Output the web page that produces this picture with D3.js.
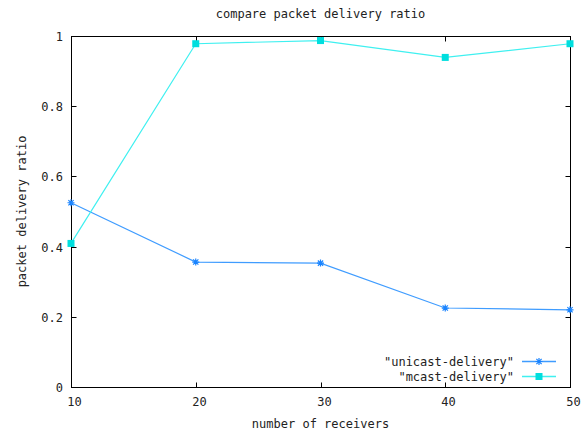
<!DOCTYPE html>
<html><head><meta charset="utf-8">
<script src="https://cdn.jsdelivr.net/npm/d3@7/dist/d3.min.js"></script>
<style>
body{margin:0;background:#fff;}
text{font-family:"DejaVu Sans Mono",monospace;font-size:12px;fill:#222;}
</style></head>
<body>
<svg id="c" width="587" height="432"></svg>
<script>
const receivers = [10, 20, 30, 40, 50];
const unicastDelivery = [0.525, 0.356, 0.353, 0.225, 0.220];
const mcastDelivery = [0.409, 0.978, 0.987, 0.939, 0.978];
const xTicks = [10, 20, 30, 40, 50];
const yTicks = [0, 0.2, 0.4, 0.6, 0.8, 1];
const seriesNames = ['"unicast-delivery"', '"mcast-delivery"'];

const svg = d3.select("#c");
const L = 71, R = 570, T = 36, B = 387;
const x = d3.scaleLinear().domain([10, 50]).range([L, R]);
const y = d3.scaleLinear().domain([0, 1]).range([B, T]);

const g = svg.append("g").attr("transform", "translate(0.5,0.5)");

// frame
g.append("rect").attr("x", L).attr("y", T).attr("width", R - L).attr("height", B - T)
  .attr("fill", "none").attr("stroke", "#000");

// ticks (inward, mirrored)
const tl = 5;
xTicks.forEach(v => {
  const px = Math.round(x(v));
  g.append("line").attr("x1", px).attr("x2", px).attr("y1", B).attr("y2", B - tl).attr("stroke", "#000");
  g.append("line").attr("x1", px).attr("x2", px).attr("y1", T).attr("y2", T + tl).attr("stroke", "#000");
  svg.append("text").attr("x", px + 3.5).attr("y", 406).attr("text-anchor", "middle").text(d3.format("d")(v));
});
yTicks.forEach(v => {
  const py = Math.round(y(v));
  g.append("line").attr("x1", L).attr("x2", L + tl).attr("y1", py).attr("y2", py).attr("stroke", "#000");
  g.append("line").attr("x1", R).attr("x2", R - tl).attr("y1", py).attr("y2", py).attr("stroke", "#000");
  svg.append("text").attr("x", 63).attr("y", py + 4.5).attr("text-anchor", "end").text(v === 0 || v === 1 ? String(v) : v.toFixed(1));
});

// titles
svg.append("text").attr("x", 320.5).attr("y", 18).attr("text-anchor", "middle").text("compare packet delivery ratio");
svg.append("text").attr("x", 320.5).attr("y", 428).attr("text-anchor", "middle").text("number of receivers");
svg.append("text").attr("transform", "translate(26,211.5) rotate(-90)").attr("text-anchor", "middle").text("packet delivery ratio");

const line = d3.line().x(d => x(d[0])).y(d => y(d[1]));
const uData = receivers.map((r, i) => [r, unicastDelivery[i]]);
const mData = receivers.map((r, i) => [r, mcastDelivery[i]]);

const uColor = "#3f9cff", uMark = "#1a84ff";
const mColor = "#3ff0f0", mMark = "#00dede";

function star(gs, cx, cy, col) {
  const s = 3.5;
  gs.append("path").attr("d",
    `M${cx - s},${cy}L${cx + s},${cy}M${cx},${cy - s}L${cx},${cy + s}M${cx - s * 0.75},${cy - s * 0.75}L${cx + s * 0.75},${cy + s * 0.75}M${cx - s * 0.75},${cy + s * 0.75}L${cx + s * 0.75},${cy - s * 0.75}`)
    .attr("stroke", col).attr("stroke-width", 1.2).attr("fill", "none");
}
function square(gs, cx, cy, col) {
  gs.append("rect").attr("x", cx - 3.5).attr("y", cy - 3.5).attr("width", 7).attr("height", 7).attr("fill", col);
}

const pg = svg.append("g");
pg.append("path").datum(uData).attr("d", line).attr("fill", "none").attr("stroke", uColor).attr("stroke-width", 1.2);
pg.append("path").datum(mData).attr("d", line).attr("fill", "none").attr("stroke", mColor).attr("stroke-width", 1.2);
uData.forEach(d => star(pg, x(d[0]), y(d[1]), uMark));
mData.forEach(d => square(pg, x(d[0]), y(d[1]), mMark));

// legend
const legY = [361.5, 376.5];
[[uColor, uMark, star], [mColor, mMark, square]].forEach((s, i) => {
  svg.append("text").attr("x", 514).attr("y", legY[i] + 4.5).attr("text-anchor", "end").text(seriesNames[i]);
  svg.append("line").attr("x1", 522).attr("x2", 556).attr("y1", legY[i]).attr("y2", legY[i]).attr("stroke", s[0]).attr("stroke-width", 1.5);
  s[2](svg, 539, legY[i], s[1]);
});
</script>
</body></html>
